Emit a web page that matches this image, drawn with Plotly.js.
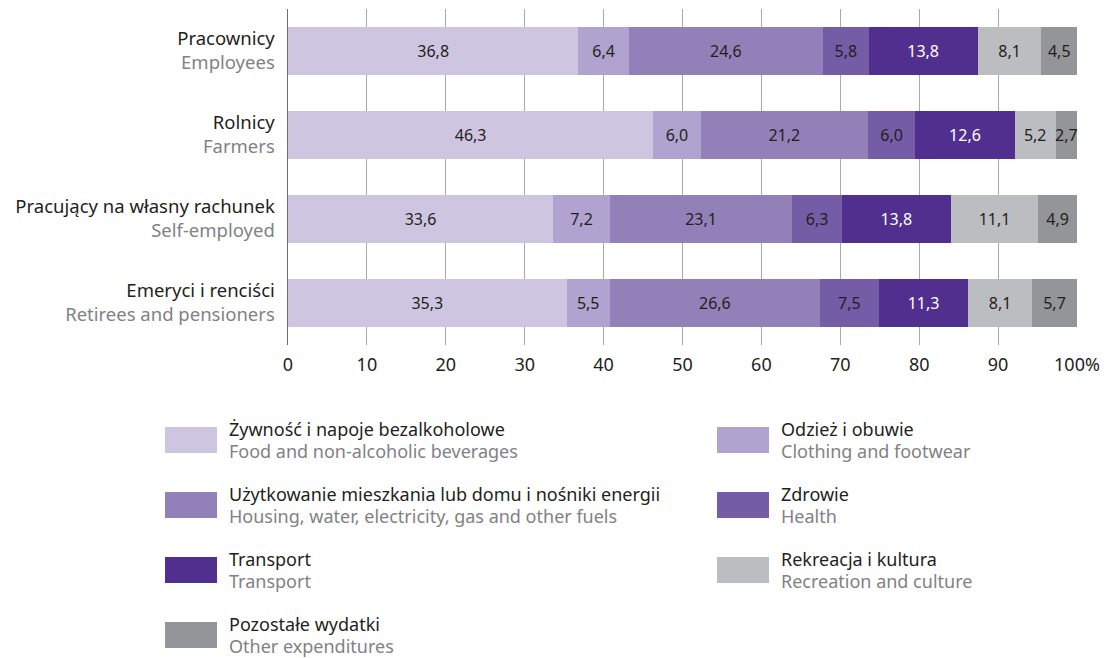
<!DOCTYPE html>
<html><head><meta charset="utf-8">
<script src="https://cdn.plot.ly/plotly-3.0.1.min.js"></script>
<style>html,body{margin:0;padding:0;background:#fff}#chart{width:1120px;height:658px}</style>
</head><body><div id="chart"></div>
<script>
const groupsPL = ["Pracownicy", "Rolnicy", "Pracujący na własny rachunek", "Emeryci i renciści"];
const groupsEN = ["Employees", "Farmers", "Self-employed", "Retirees and pensioners"];
const seriesPL = ["Żywność i napoje bezalkoholowe", "Odzież i obuwie", "Użytkowanie mieszkania lub domu i nośniki energii", "Zdrowie", "Transport", "Rekreacja i kultura", "Pozostałe wydatki"];
const seriesEN = ["Food and non-alcoholic beverages", "Clothing and footwear", "Housing, water, electricity, gas and other fuels", "Health", "Transport", "Recreation and culture", "Other expenditures"];
const food      = [36.8, 46.3, 33.6, 35.3];
const clothing  = [6.4, 6.0, 7.2, 5.5];
const housing   = [24.6, 21.2, 23.1, 26.6];
const health    = [5.8, 6.0, 6.3, 7.5];
const transport = [13.8, 12.6, 13.8, 11.3];
const recreation= [8.1, 5.2, 11.1, 8.1];
const other     = [4.5, 2.7, 4.9, 5.7];
const xTickVals = [0, 10, 20, 30, 40, 50, 60, 70, 80, 90, 100];
const xTickText = ["0", "10", "20", "30", "40", "50", "60", "70", "80", "90", "100%"];

const values = [food, clothing, housing, health, transport, recreation, other];
const colors = ["#cec6e1", "#b0a3cf", "#9281b9", "#755ca6", "#512f8f", "#bcbdc0", "#939598"];
const textColors = ["#231f20", "#231f20", "#231f20", "#231f20", "#ffffff", "#231f20", "#231f20"];
const FONT = "Noto Sans, Open Sans, sans-serif";

const traces = values.map((v, i) => ({
  type: "bar", orientation: "h",
  x: v, y: groupsPL.map((_, k) => k),
  name: seriesPL[i],
  marker: {color: colors[i], line: {width: 0}},
  text: v.map(d => d.toFixed(1).replace(".", ",")),
  textposition: "inside", insidetextanchor: "middle",
  constraintext: "none", textangle: 0,
  textfont: {family: FONT, size: 16, color: textColors[i]},
  hoverinfo: "x+name", showlegend: false, cliponaxis: false
}));

const W = 1120, H = 658;
const mL = 288, mR = 43, mT = 9, mB = 313;
const plotH = H - mT - mB;
const plotW = W - mL - mR;
const pxX = px => (px - mL) / plotW;
const pxY = py => (H - mB - py) / plotH;

const shapes = [];
const annotations = [];
const legCols = [165, 717];
const legRows = [427, 492, 557, 622];
seriesPL.forEach((s, i) => {
  const col = i % 2, row = Math.floor(i / 2);
  const x0 = legCols[col], y0 = legRows[row];
  shapes.push({type: "rect", xref: "paper", yref: "paper",
    x0: pxX(x0), x1: pxX(x0 + 52), y0: pxY(y0 + 26), y1: pxY(y0),
    fillcolor: colors[i], line: {width: 0}});
  annotations.push({xref: "paper", yref: "paper", x: pxX(x0 + 62), y: pxY(y0 + 2),
    xanchor: "left", yanchor: "middle", showarrow: false,
    text: s, font: {family: FONT, size: 18, color: "#231f20"}});
  annotations.push({xref: "paper", yref: "paper", x: pxX(x0 + 62), y: pxY(y0 + 24),
    xanchor: "left", yanchor: "middle", showarrow: false,
    text: seriesEN[i], font: {family: FONT, size: 18, color: "#808285"}});
});

const layout = {
  width: W, height: H,
  margin: {l: mL, r: mR, t: mT, b: mB, pad: 0},
  barmode: "stack", bargap: 0.43,
  separators: ", ",
  paper_bgcolor: "#ffffff", plot_bgcolor: "#ffffff",
  font: {family: FONT, size: 18, color: "#231f20"},
  xaxis: {range: [0, 100], tickvals: xTickVals, ticktext: xTickText,
    showgrid: true, gridcolor: "#a7a9ac", gridwidth: 1, zeroline: false,
    showline: false, ticks: "", ticklabelstandoff: 7,
    tickfont: {family: FONT, size: 18, color: "#231f20"},
    fixedrange: true},
  yaxis: {range: [3.5, -0.5], tickvals: [0, 1, 2, 3],
    ticktext: groupsPL.map((g, k) => g + "<br><span style='color:#808285'>" + groupsEN[k] + "</span>"),
    showline: true, linecolor: "#6d6e71", linewidth: 1.5, showgrid: false, zeroline: false,
    ticks: "", ticklabelstandoff: 8, tickfont: {family: FONT, size: 18.5, color: "#231f20"},
    fixedrange: true},
  shapes: shapes, annotations: annotations
};

Plotly.newPlot("chart", traces, layout, {displayModeBar: false, staticPlot: true});
</script></body></html>
